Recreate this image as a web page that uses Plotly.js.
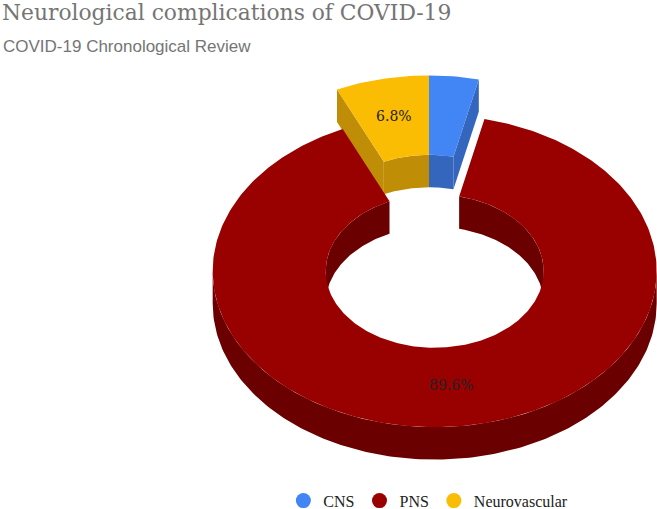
<!DOCTYPE html>
<html>
<head>
<meta charset="utf-8">
<script src="https://cdn.plot.ly/plotly-3.0.1.min.js"></script>
<style>html,body{margin:0;padding:0;background:#fff;}#chart{width:657px;height:509px;}</style>
</head>
<body>
<div id="chart"></div>
<script>
// ---- data ----
const categories = ['CNS', 'PNS', 'Neurovascular'];
const values = [3.6, 89.6, 6.8];
const sliced = [false, true, false];
const topColors = ['#4285F4', '#990000', '#FBBC04'];
const sideColors = ['#3466bd', '#6b0000', '#bf8e06'];

// ---- geometry (chart units; outer radius = 1) ----
const R_OUT = 1, R_IN = 0.491, TILT = 0.703, DEPTH = 0.146, SLICE_OFFSET = 0.255;
const LABEL_MIN_PCT = 5;
const XR = [-1.9324, 1.0270], YR = [-1.25, 1.0428];

const total = values.reduce((a, b) => a + b, 0);
const rad = d => d * Math.PI / 180;

function pt(theta, r, c, z) {
  return [c.x + r * Math.sin(rad(theta)), c.y + r * Math.cos(rad(theta)) * TILT - z];
}
function arc(a, b, r, c, z) {
  const pts = [];
  const n = Math.max(2, Math.ceil(Math.abs(b - a)));
  for (let i = 0; i <= n; i++) pts.push(pt(a + (b - a) * i / n, r, c, z));
  return pts;
}
function poly(pts, color) {
  return {
    type: 'scatter', mode: 'lines', fill: 'toself', fillcolor: color,
    x: pts.map(p => p[0]).concat([pts[0][0]]),
    y: pts.map(p => p[1]).concat([pts[0][1]]),
    line: {width: 0, color: color}, showlegend: false, hoverinfo: 'skip'
  };
}
function wall(a, b, r, c, color) {
  const top = arc(a, b, r, c, 0);
  const bot = arc(b, a, r, c, DEPTH);
  return poly(top.concat(bot), color);
}
function intersect(a1, b1, a2, b2) {
  const a = Math.max(a1, a2), b = Math.min(b1, b2);
  return b > a ? [a, b] : null;
}

// slices
let start = 0;
const slices = values.map((v, i) => {
  const t1 = start, t2 = start + v / total * 360;
  start = t2;
  const mid = (t1 + t2) / 2;
  const off = sliced[i] ? SLICE_OFFSET : 0;
  const c = {x: off * Math.sin(rad(mid)), y: off * Math.cos(rad(mid)) * TILT};
  return {i, t1, t2, mid, c, pct: v / total * 100};
});

function wallsOf(s) {
  const tr = [];
  const col = sideColors[s.i];
  [[0, 90], [270, 360]].forEach(([a, b]) => {
    const r = intersect(s.t1, s.t2, a, b);
    if (r) tr.push(wall(r[0], r[1], R_IN, s.c, col));
  });
  if (Math.sin(rad(s.t1)) < -1e-6) {
    tr.push(poly([pt(s.t1, R_OUT, s.c, 0), pt(s.t1, R_IN, s.c, 0), pt(s.t1, R_IN, s.c, DEPTH), pt(s.t1, R_OUT, s.c, DEPTH)], col));
  }
  if (Math.sin(rad(s.t2)) > 1e-6) {
    tr.push(poly([pt(s.t2, R_OUT, s.c, 0), pt(s.t2, R_IN, s.c, 0), pt(s.t2, R_IN, s.c, DEPTH), pt(s.t2, R_OUT, s.c, DEPTH)], col));
  }
  const o = intersect(s.t1, s.t2, 90, 270);
  if (o) tr.push(wall(o[0], o[1], R_OUT, s.c, col));
  return tr;
}
function topOf(s) {
  const pts = arc(s.t1, s.t2, R_OUT, s.c, 0).concat(arc(s.t2, s.t1, R_IN, s.c, 0));
  return poly(pts, topColors[s.i]);
}

const traces = [];
[slices.filter(s => !sliced[s.i]), slices.filter(s => sliced[s.i])].forEach(group => {
  group.forEach(s => wallsOf(s).forEach(t => traces.push(t)));
  group.forEach(s => traces.push(topOf(s)));
});

// data labels
const lab = slices.filter(s => s.pct >= LABEL_MIN_PCT);
traces.push({
  type: 'scatter', mode: 'text',
  x: lab.map(s => pt(s.mid, (R_OUT + R_IN) / 2, s.c, 0)[0]),
  y: lab.map(s => pt(s.mid, (R_OUT + R_IN) / 2, s.c, 0)[1]),
  text: lab.map(s => s.pct.toFixed(1) + '%'),
  textposition: 'middle center',
  textfont: {family: 'DejaVu Serif', size: 14, color: '#222222'},
  showlegend: false, hoverinfo: 'skip'
});

// legend entries
categories.forEach((name, i) => {
  traces.push({
    type: 'scatter', mode: 'markers', x: [null], y: [null], name: name,
    marker: {symbol: 'circle', size: 15, color: topColors[i]},
    showlegend: true
  });
});

const layout = {
  width: 657, height: 509,
  margin: {l: 0, r: 0, t: 0, b: 0, autoexpand: false},
  paper_bgcolor: '#ffffff', plot_bgcolor: '#ffffff',
  hovermode: false,
  title: {
    text: 'Neurological complications of COVID-19',
    font: {family: 'DejaVu Serif', size: 21.8, color: '#757575'},
    xref: 'container', yref: 'container', x: 0.003, xanchor: 'left', y: 0.99, yanchor: 'top'
  },
  annotations: [{
    text: 'COVID-19 Chronological Review',
    xref: 'paper', yref: 'paper', x: 0.002, xanchor: 'left', y: 1 - 58 / 509, yanchor: 'bottom',
    showarrow: false, font: {family: 'Liberation Sans, Arial', size: 17, color: '#757575'}
  }],
  xaxis: {range: XR, visible: false, fixedrange: true},
  yaxis: {range: YR, visible: false, fixedrange: true},
  showlegend: true,
  legend: {
    orientation: 'h', xref: 'container', yref: 'container',
    x: 0.652, xanchor: 'center', y: 0.0163, yanchor: 'middle',
    font: {family: 'Liberation Serif', size: 16, color: '#222222'},
    bgcolor: 'rgba(0,0,0,0)'
  }
};

Plotly.newPlot('chart', traces, layout, {displayModeBar: false, staticPlot: true});
</script>
</body>
</html>
